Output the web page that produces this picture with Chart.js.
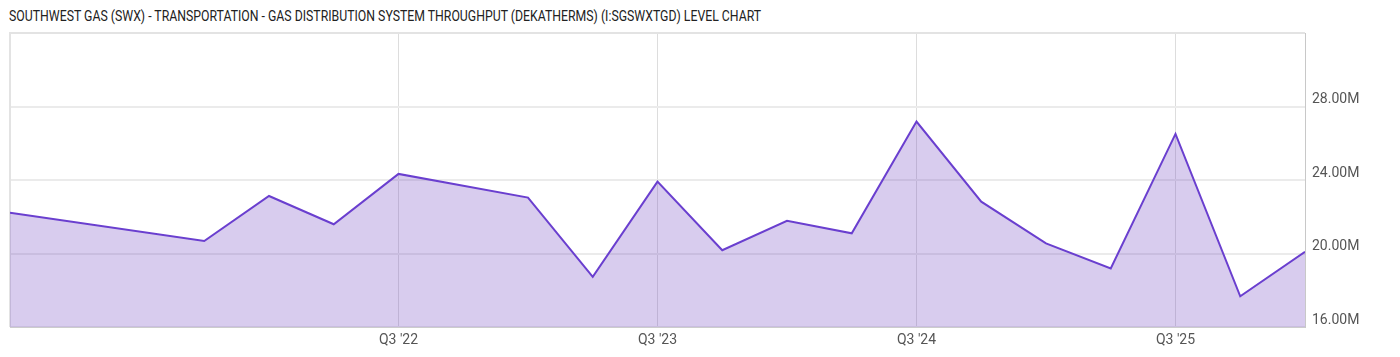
<!DOCTYPE html>
<html>
<head>
<meta charset="utf-8">
<script src="https://cdn.jsdelivr.net/npm/chart.js@4.4.1/dist/chart.umd.min.js"></script>
<style>
    html, body { margin: 0; padding: 0; background: #fff; }
    #wrap { position: relative; width: 1400px; height: 357px; }
    #title {
        position: absolute; left: 9px; top: 7px;
        font-family: Roboto, sans-serif;
        font-size: 15px; color: #222;
        white-space: nowrap; transform-origin: 0 0;
    }
    canvas { position: absolute; left: 0; top: 0; }
</style>
</head>
<body>
<div id="wrap">
    <div id="title">SOUTHWEST GAS (SWX) - TRANSPORTATION - GAS DISTRIBUTION SYSTEM THROUGHPUT (DEKATHERMS) (I:SGSWXTGD) LEVEL CHART</div>
    <canvas id="chart" width="1400" height="357"></canvas>
</div>
<script>
// quarters shown on the chart (there is no Q2/Q3 '21 or Q4 '22 point)
const periods = ["Q1 '21", "Q4 '21", "Q1 '22", "Q2 '22", "Q3 '22", "Q1 '23", "Q2 '23", "Q3 '23", "Q4 '23",
    "Q1 '24", "Q2 '24", "Q3 '24", "Q4 '24", "Q1 '25", "Q2 '25", "Q3 '25", "Q4 '25", "Q1 '26"];
// throughput, dekatherms
const throughput = [22.22e6, 20.68e6, 23.13e6, 21.59e6, 24.33e6, 23.04e6, 18.73e6, 23.91e6, 20.18e6,
    21.78e6, 21.10e6, 27.18e6, 22.82e6, 20.55e6, 19.19e6, 26.51e6, 17.67e6, 20.09e6];
const xTickLabels = ["Q3 '22", "Q3 '23", "Q3 '24", "Q3 '25"];
const yTicks = [16e6, 20e6, 24e6, 28e6];

// quarter label -> quarters since Q1 '21
function qIndex(label) {
    const q = parseInt(label[1]);
    const yr = parseInt(label.slice(-2));
    return (yr - 21) * 4 + (q - 1);
}

// squeeze title to the width of the original
const title = document.getElementById('title');
title.style.transform = 'scaleX(' + (752 / title.scrollWidth) + ')';

const plotBorder = {
    id: 'plotBorder',
    beforeDatasetsDraw(chart) {
        const a = chart.chartArea, ctx = chart.ctx;
        ctx.save();
        ctx.strokeStyle = '#e3e3e3';
        ctx.lineWidth = 2;
        ctx.beginPath();
        ctx.moveTo(a.left, a.bottom);
        ctx.lineTo(a.left, a.top);
        ctx.lineTo(a.right, a.top);
        ctx.stroke();
        ctx.restore();
    }
};

const ctx = document.getElementById('chart').getContext('2d');
const chart = new Chart(ctx, {
    type: 'line',
    data: {
        datasets: [{
            label: 'Throughput',
            data: periods.map((p, i) => ({ x: qIndex(p), y: throughput[i] })),
            borderColor: '#6a3fcf',
            backgroundColor: 'rgba(111, 66, 193, 0.27)',
            borderWidth: 2,
            pointRadius: 0,
            tension: 0,
            fill: 'start'
        }]
    },
    options: {
        responsive: false,
        animation: false,
        layout: { padding: { left: 10, top: 33, right: 0, bottom: 0 } },
        plugins: { legend: { display: false }, tooltip: { enabled: false } },
        scales: {
            x: {
                type: 'linear',
                min: 0,
                max: 20,
                afterBuildTicks: (scale) => {
                    scale.ticks = xTickLabels.map(l => ({ value: qIndex(l) }));
                },
                afterFit: (scale) => { scale.height = 30; },
                grid: { color: '#dddddd', drawTicks: false },
                border: { color: '#cccccc', width: 1 },
                ticks: {
                    padding: 5,
                    color: '#555',
                    font: { family: 'Roboto', size: 14 },
                    maxRotation: 0,
                    autoSkip: false,
                    callback: (v) => xTickLabels.find(l => qIndex(l) === v) || ''
                }
            },
            y: {
                position: 'right',
                min: 16e6,
                max: 32e6,
                afterBuildTicks: (scale) => {
                    scale.ticks = yTicks.map(v => ({ value: v }));
                },
                afterFit: (scale) => { scale.width = 95; },
                grid: { color: '#ebebeb', lineWidth: 2, drawTicks: false },
                border: { color: '#c8c8c8', width: 1 },
                ticks: {
                    padding: 7,
                    labelOffset: -7,
                    color: '#555',
                    font: { family: 'Roboto', size: 14 },
                    callback: (v) => (v / 1e6).toFixed(2) + 'M'
                }
            }
        }
    },
    plugins: [plotBorder]
});
</script>
</body>
</html>
